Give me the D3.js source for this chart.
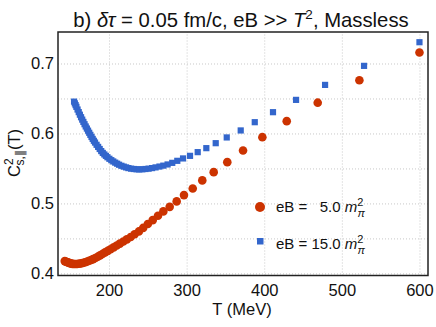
<!DOCTYPE html>
<html>
<head>
<meta charset="utf-8">
<script src="https://cdn.jsdelivr.net/npm/d3@7"></script>
<style>
  body { margin: 0; background: #fff; }
  text { font-family: "Liberation Sans", Arial, sans-serif; }
</style>
</head>
<body>
<svg id="chart" width="436" height="327"></svg>
<script>
// eB = 5.0 m_pi^2 (red circles)
const redT = [600, 522.6, 468.9, 429, 397.6, 372.7, 352.4, 334.9, 320.2, 307.9, 296.6, 287.2,
  278.2, 270, 263.1, 256.3, 250, 244, 238.5, 233, 228, 223, 218.5, 214, 210, 206, 202,
  198.5, 195, 191.5, 188.5, 185.5, 182.5, 179.5, 177, 174.5, 172, 169.5, 167, 165, 163,
  161, 159, 157, 155, 153, 151.5, 150, 148.5, 147, 145.5, 144, 143];
const redC = [0.7157, 0.676, 0.644, 0.6176, 0.5947, 0.5757, 0.559, 0.5447, 0.5329, 0.5214, 0.5119, 0.5029,
  0.4951, 0.4886, 0.4823, 0.4761, 0.4705, 0.465, 0.46, 0.456, 0.452, 0.4486, 0.4455, 0.4425, 0.4398, 0.4372, 0.4345,
  0.4322, 0.43, 0.4278, 0.4258, 0.4238, 0.422, 0.4204, 0.4192, 0.418, 0.417, 0.416, 0.4152, 0.4146, 0.4141,
  0.4138, 0.4135, 0.4134, 0.4134, 0.4136, 0.414, 0.4145, 0.415, 0.4157, 0.4164, 0.4171, 0.4176];

// eB = 15.0 m_pi^2 (blue squares)
const blueT = [600, 528.6, 478.4, 441, 411.3, 387.8, 369.7, 351.7, 337.5, 325.4, 314.3, 304.4, 295.4,
  288, 281.5, 275.5, 270, 265, 260, 255.5, 251, 247, 243, 239, 235.5, 232, 228.5, 225, 222,
  219, 216, 213, 210.5, 208, 205.5, 203, 200.5, 198, 196, 194, 192, 190, 188, 186, 184, 182,
  180.5, 179, 177.5, 176, 174.5, 173, 171.5, 170, 168.5, 167, 165.5, 164, 162.5, 161, 159.5,
  158, 157, 156, 155];
const blueC = [0.7304, 0.6966, 0.6694, 0.648, 0.6304, 0.6161, 0.6043, 0.5943, 0.5861, 0.579, 0.5733, 0.568, 0.5643,
  0.5609, 0.558, 0.5557, 0.554, 0.5527, 0.5515, 0.5505, 0.5497, 0.5492, 0.5488, 0.5486, 0.5488, 0.5492, 0.5497, 0.5505, 0.5515,
  0.5526, 0.5538, 0.5553, 0.5568, 0.5583, 0.56, 0.5618, 0.5638, 0.566, 0.568, 0.57, 0.5722, 0.5748, 0.5778, 0.5808, 0.5838, 0.587,
  0.5895, 0.5922, 0.595, 0.598, 0.601, 0.604, 0.607, 0.61, 0.6132, 0.6165, 0.6198, 0.6232, 0.6268, 0.6305, 0.6342,
  0.638, 0.6405, 0.643, 0.6455];

const xTicks = [200, 300, 400, 500, 600];
const yTicks = [0.4, 0.5, 0.6, 0.7];
const yGrid = [0.4, 0.45, 0.5, 0.55, 0.6, 0.65, 0.7];

const red = "#cc3300";
const blue = "#3366cc";

const svg = d3.select("#chart");
const margin = { top: 32, right: 8, bottom: 51.5, left: 58 };
const width = +svg.attr("width") - margin.left - margin.right;
const height = +svg.attr("height") - margin.top - margin.bottom;

const x = d3.scaleLinear().domain([134.3, 611]).range([0, width]);
const y = d3.scaleLinear().domain([0.397, 0.745]).range([height, 0]);

const g = svg.append("g").attr("transform", `translate(${margin.left},${margin.top})`);

// grid
g.append("g")
  .attr("transform", `translate(0,${height})`)
  .call(d3.axisBottom(x).tickValues(xTicks).tickSize(-height).tickFormat(""))
  .call(s => s.select(".domain").remove())
  .selectAll("line").attr("stroke", "#c8c8c8").attr("stroke-dasharray", "1,2");

g.append("g")
  .call(d3.axisLeft(y).tickValues(yGrid).tickSize(-width).tickFormat(""))
  .call(s => s.select(".domain").remove())
  .selectAll("line").attr("stroke", "#c8c8c8").attr("stroke-dasharray", "1,2");

// tick labels
g.append("g")
  .attr("transform", `translate(0,${height})`)
  .call(d3.axisBottom(x).tickValues(xTicks).tickSize(0).tickPadding(9))
  .call(s => s.select(".domain").remove())
  .selectAll("text").attr("font-size", 16.5).attr("fill", "#111")
  .style("font-family", '"Liberation Sans", Arial, sans-serif');

g.append("g")
  .call(d3.axisLeft(y).tickValues(yTicks).tickSize(0).tickPadding(4).tickFormat(d3.format(".1f")))
  .call(s => s.select(".domain").remove())
  .selectAll("text").attr("font-size", 16.5).attr("fill", "#111")
  .style("font-family", '"Liberation Sans", Arial, sans-serif');

// data
g.append("g").selectAll("circle")
  .data(redT.map((t, i) => [t, redC[i]]))
  .join("circle")
  .attr("cx", d => x(d[0]))
  .attr("cy", d => y(d[1]))
  .attr("r", 4.3)
  .attr("fill", red);

const sq = 6.2;
g.append("g").selectAll("rect")
  .data(blueT.map((t, i) => [t, blueC[i]]))
  .join("rect")
  .attr("x", d => x(d[0]) - sq / 2)
  .attr("y", d => y(d[1]) - sq / 2)
  .attr("width", sq)
  .attr("height", sq)
  .attr("fill", blue);

// frame
g.append("rect")
  .attr("width", width)
  .attr("height", height)
  .attr("fill", "none")
  .attr("stroke", "#222")
  .attr("stroke-width", 1.5);

// legend
const leg = svg.append("g").attr("font-size", 15);
leg.append("circle").attr("cx", 260).attr("cy", 207).attr("r", 5).attr("fill", red);
leg.append("rect").attr("x", 257).attr("y", 238).attr("width", 6.5).attr("height", 6.5).attr("fill", blue);

function legendText(yy, label) {
  const t = leg.append("text").attr("x", 276).attr("y", yy).attr("fill", "#111").attr("xml:space", "preserve");
  t.append("tspan").text(label);
  t.append("tspan").attr("font-style", "italic").text("m");
  t.append("tspan").attr("font-size", 11).attr("dy", -6).text("2");
  t.append("tspan").attr("font-size", 11).attr("font-style", "italic").attr("dx", -6).attr("dy", 11).text("π");
}
legendText(212, "eB =   5.0 ");
legendText(248.5, "eB = 15.0 ");

// axis titles
svg.append("text")
  .attr("x", 242).attr("y", 315)
  .attr("text-anchor", "middle")
  .attr("font-size", 16.5)
  .attr("fill", "#111")
  .text("T (MeV)");

const yl = svg.append("text")
  .attr("transform", "translate(20,153) rotate(-90)")
  .attr("text-anchor", "middle")
  .attr("font-size", 16.5)
  .attr("fill", "#111");
yl.append("tspan").text("C");
yl.append("tspan").attr("font-size", 12).attr("dy", -7).text("2");
yl.append("tspan").attr("font-size", 12).attr("dx", -7).attr("dy", 11).text("s,∥");
yl.append("tspan").attr("dy", -4).text("(T)");

// title
const title = svg.append("text")
  .attr("x", 241).attr("y", 27)
  .attr("text-anchor", "middle")
  .attr("font-size", 20.3)
  .attr("fill", "#111");
title.append("tspan").text("b) ");
title.append("tspan").attr("font-style", "italic").text("δτ");
title.append("tspan").text(" = 0.05 fm/c, eB >> ");
title.append("tspan").attr("font-style", "italic").text("T");
title.append("tspan").attr("font-size", 13.5).attr("dy", -8.5).text("2");
title.append("tspan").attr("dy", 8.5).text(", Massless");
</script>
</body>
</html>
